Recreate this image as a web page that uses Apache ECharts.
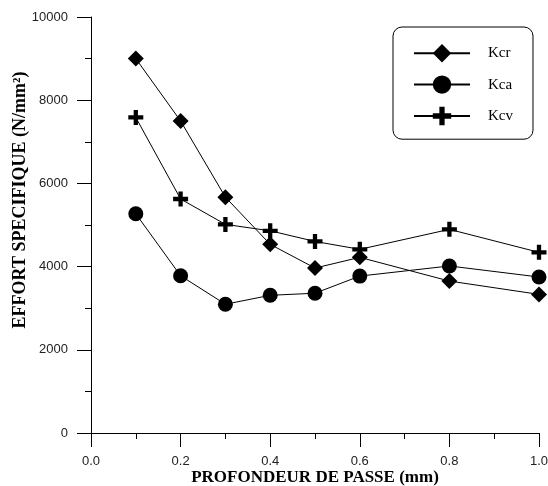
<!DOCTYPE html>
<html>
<head>
<meta charset="utf-8">
<script src="https://cdn.jsdelivr.net/npm/echarts@6/dist/echarts.min.js"></script>
<style>html,body{margin:0;padding:0;background:#fff}#c{width:548px;height:486px}</style>
</head>
<body>
<div id="c"></div>
<script>
const depth = [0.1, 0.2, 0.3, 0.4, 0.5, 0.6, 0.8, 1.0];
const kcr = [9000, 7500, 5670, 4535, 3965, 4222, 3652, 3332];
const kca = [5270, 3780, 3095, 3310, 3360, 3772, 4015, 3750];
const kcv = [7585, 5625, 5015, 4860, 4605, 4415, 4895, 4343];
const seriesNames = ['Kcr', 'Kca', 'Kcv'];
const xTitle = 'PROFONDEUR DE PASSE (mm)';
const yTitle = 'EFFORT SPECIFIQUE (N/mm²)';

const plusPath = 'path://M5,0H9V5H14V9H9V14H5V9H0V5H5Z';
const pair = (vals) => depth.map((d, i) => [d, vals[i]]);

const chart = echarts.init(document.getElementById('c'), null, {renderer: 'canvas'});
const axisCommon = {
  axisLine: {show: true, onZero: false, lineStyle: {color: '#000', width: 1}},
  axisTick: {show: true, length: 14, lineStyle: {color: '#000', width: 1}},
  minorTick: {show: true, splitNumber: 2, length: 6, lineStyle: {color: '#000', width: 1}},
  splitLine: {show: false},
  minorSplitLine: {show: false},
  axisLabel: {color: '#222', fontFamily: 'Liberation Sans', fontSize: 13},
  nameLocation: 'middle',
  nameMoveOverlap: false,
  nameTextStyle: {color: '#000', fontFamily: 'Liberation Serif', fontWeight: 'bold', fontSize: 17}
};
const lineSeries = (name, vals, symbol, size) => ({
  name, type: 'line', data: pair(vals), symbol, symbolSize: size,
  lineStyle: {color: '#000', width: 1},
  itemStyle: {color: '#000'},
  emphasis: {disabled: true},
  animation: false
});
chart.setOption({
  animation: false,
  grid: {left: 91, right: 9, top: 17, bottom: 53, containLabel: false, outerBoundsMode: 'none'},
  xAxis: Object.assign({}, axisCommon, {
    type: 'value', min: 0, max: 1, interval: 0.2,
    name: xTitle, nameGap: 36,
    axisLabel: Object.assign({}, axisCommon.axisLabel, {margin: 22, formatter: v => v.toFixed(1)})
  }),
  yAxis: Object.assign({}, axisCommon, {
    type: 'value', min: 0, max: 10000, interval: 2000,
    name: yTitle, nameGap: 62,
    nameTextStyle: Object.assign({}, axisCommon.nameTextStyle, {fontSize: 18, padding: [0, 0, 0, 50]}),
    axisLabel: Object.assign({}, axisCommon.axisLabel, {margin: 23, formatter: v => String(v)})
  }),
  legend: {
    left: 393, top: 27, orient: 'vertical',
    data: seriesNames,
    itemWidth: 56, itemHeight: 23, itemGap: 13,
    padding: [17, 20, 14, 20],
    borderColor: '#000', borderWidth: 1, borderRadius: 9,
    textStyle: {color: '#000', fontFamily: 'Liberation Serif', fontSize: 15, padding: [0, 0, 0, 13]},
    selectedMode: false
  },
  series: [
    lineSeries('Kcr', kcr, 'diamond', 16),
    lineSeries('Kca', kca, 'circle', 15),
    lineSeries('Kcv', kcv, plusPath, 15)
  ]
});
</script>
</body>
</html>
